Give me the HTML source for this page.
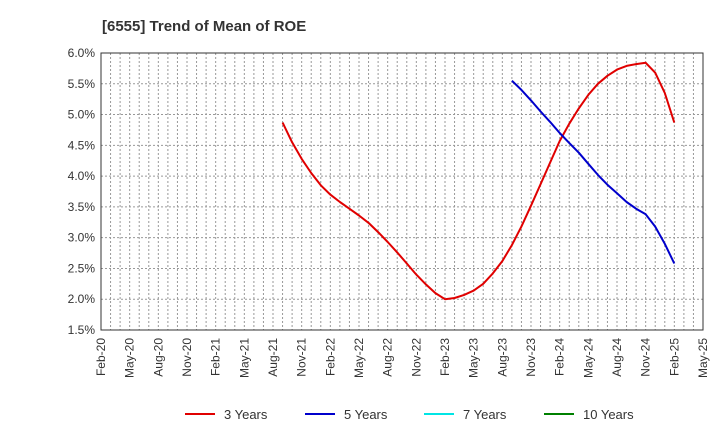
<!DOCTYPE html>
<html><head><meta charset="utf-8"><style>
body{margin:0;background:#fff;font-family:"Liberation Sans",sans-serif;}
svg text{font-family:"Liberation Sans",sans-serif;}
</style></head><body>
<svg id="chart" width="720" height="440" xmlns="http://www.w3.org/2000/svg">
<text x="102" y="31" font-size="15" font-weight="bold" fill="#333">[6555]  Trend of Mean of ROE</text>
<g id="grid"></g><g id="axes"></g><g id="series"></g><g id="legend"></g>
</svg>
<script>
const xLabels=["Feb-20","May-20","Aug-20","Nov-20","Feb-21","May-21","Aug-21","Nov-21","Feb-22","May-22","Aug-22","Nov-22","Feb-23","May-23","Aug-23","Nov-23","Feb-24","May-24","Aug-24","Nov-24","Feb-25","May-25"];
const yTicks=[1.5,2.0,2.5,3.0,3.5,4.0,4.5,5.0,5.5,6.0];
const start3=19;
const years3=[4.87,4.55,4.28,4.05,3.85,3.70,3.58,3.47,3.36,3.24,3.09,2.93,2.76,2.58,2.40,2.24,2.10,2.0,2.02,2.07,2.14,2.25,2.42,2.62,2.88,3.18,3.52,3.87,4.22,4.57,4.85,5.10,5.32,5.50,5.63,5.73,5.79,5.82,5.84,5.68,5.35,4.87];
const start5=43;
const years5=[5.55,5.40,5.23,5.05,4.88,4.70,4.54,4.38,4.20,4.02,3.86,3.72,3.58,3.47,3.38,3.18,2.90,2.58];
const legendNames=["3 Years","5 Years","7 Years","10 Years"];
const legendColors=["#e00000","#0000cc","#00e5e5","#008000"];
const L=101,R=703,T=53,B=330,NM=63;
const x=m=>L+(R-L)*m/NM;
const y=v=>B-(B-T)*(v-1.5)/4.5;
const NS="http://www.w3.org/2000/svg";
function mk(tag,attrs,parent){const e=document.createElementNS(NS,tag);for(const k in attrs)e.setAttribute(k,attrs[k]);parent.appendChild(e);return e;}
const grid=document.getElementById('grid'),axes=document.getElementById('axes'),ser=document.getElementById('series'),leg=document.getElementById('legend');
for(let m=1;m<NM;m++){const l=mk('line',{x1:x(m),x2:x(m),y1:T,y2:B,stroke:'#999','stroke-dasharray':'2,2','stroke-width':1},grid);

}
yTicks.forEach(v=>{const l=mk('line',{x1:L,x2:R,y1:y(v),y2:y(v),stroke:'#999','stroke-dasharray':'2,2','stroke-width':1},grid);


const t=mk('text',{x:L-6,y:y(v)+4,'font-size':12,'text-anchor':'end',fill:'#333'},axes);t.textContent=v.toFixed(1)+'%';

});
const fr=mk('rect',{x:L,y:T,width:R-L,height:B-T,fill:'none',stroke:'#333','stroke-width':1},axes);


xLabels.forEach((s,i)=>{const xx=x(i*3);const t=mk('text',{transform:`translate(${xx+4},${B+8}) rotate(-90)`,'font-size':12,'text-anchor':'end',fill:'#333'},axes);t.textContent=s;

});
function line(vals,st,col,name){const p=vals.map((v,i)=>x(st+i).toFixed(1)+','+y(v).toFixed(1)).join(' ');
const e=mk('polyline',{points:p,fill:'none',stroke:col,'stroke-width':2,'stroke-linejoin':'round'},ser);

}
line(years3,start3,legendColors[0],'series-3-years');
line(years5,start5,legendColors[1],'series-5-years');
const lx=[185,305,424,544];
legendNames.forEach((n,i)=>{const g=mk('g',{},leg);


mk('line',{x1:lx[i],x2:lx[i]+30,y1:414,y2:414,stroke:legendColors[i],'stroke-width':2},g);
const t=mk('text',{x:lx[i]+39,y:419,'font-size':13,fill:'#333'},g);t.textContent=n;});
</script>
</body></html>
